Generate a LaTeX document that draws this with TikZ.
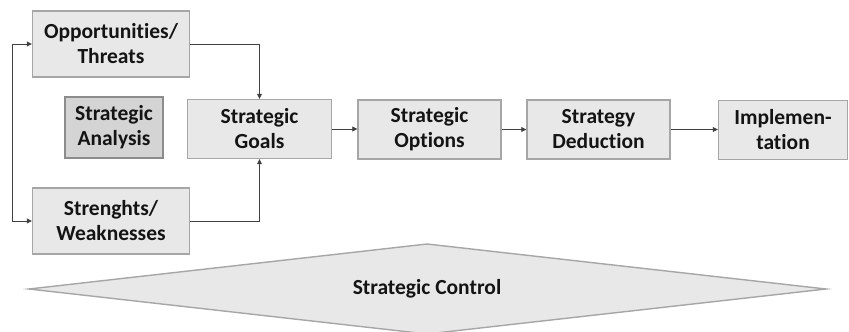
\documentclass[tikz,border=0pt]{standalone}
\usepackage{fontspec}
\setmainfont{Carlito}[Ligatures=NoCommon]
\usetikzlibrary{arrows.meta,shapes.geometric}
\definecolor{boxfill}{HTML}{E8E8E8}
\definecolor{boxline}{HTML}{A6A6A6}
\definecolor{darkfill}{HTML}{D4D4D4}
\definecolor{darkline}{HTML}{8C8C8C}
\definecolor{arrowcol}{HTML}{404040}
\begin{document}
\begin{tikzpicture}[x=1pt,y=-1pt,
  stepbox/.style={draw=boxline,fill=boxfill,line width=1.4pt,inner sep=0pt,align=center,font=\bfseries\fontsize{21.5}{25}\selectfont,text=black!92},
  conn/.style={draw=arrowcol,line width=0.8pt,-{Triangle[length=5pt,width=5pt]}}]
\useasboundingbox (0,0) rectangle (849,332);
\node[stepbox,minimum width=157pt,minimum height=66pt] (opp) at (111,44) {Opportunities/\\Threats};
\node[stepbox,minimum width=157pt,minimum height=66pt] (str) at (111,221) {Strenghts/\\Weaknesses};
\node[stepbox,draw=darkline,fill=darkfill,minimum width=98pt,minimum height=61pt] (ana) at (114,127.5) {Strategic\\Analysis};
\node[stepbox,minimum width=144pt,minimum height=59pt] (goals) at (259.5,129) {Strategic\\Goals};
\node[stepbox,minimum width=143pt,minimum height=59pt] (opt) at (429.5,129.5) {Strategic\\Options};
\node[stepbox,minimum width=143pt,minimum height=59pt] (ded) at (598.5,129.5) {Strategy\\Deduction};
\node[stepbox,minimum width=129pt,minimum height=59pt] (imp) at (783,130) {Implemen-\\tation};
\draw[draw=boxline,fill=boxfill,line width=1.4pt] (29,289) -- (427,244) -- (826,289) -- (427,334) -- cycle;
\node[font=\bfseries\fontsize{21.5}{25}\selectfont,text=black!92] (ctrl) at (427,289) {Strategic Control};
\coordinate (lt) at (12,44);
\coordinate (lb) at (12,221);
\draw[conn] (lb) -- (lt) -- (opp.west);
\draw[conn] (lt) -- (lb) -- (str.west);
\draw[conn] (opp.east) -| (goals.north);
\draw[conn] (str.east) -| (goals.south);
\draw[conn] (goals.east) -- (opt.west |- goals.east);
\draw[conn] (opt.east) -- (ded.west);
\draw[conn] (ded.east) -- (imp.west |- ded.east);
\end{tikzpicture}
\end{document}
